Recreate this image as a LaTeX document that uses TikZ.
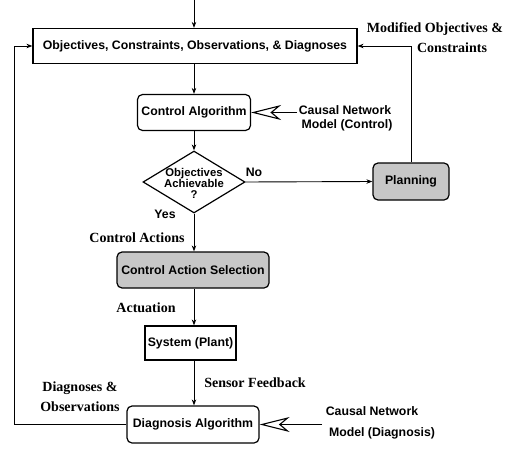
\documentclass[tikz,border=0pt]{standalone}
\usepackage{fontspec}
\setmainfont{Liberation Serif}
\setsansfont{Liberation Sans}
\usetikzlibrary{shapes.geometric,arrows.meta}
\begin{document}
\begin{tikzpicture}[x=1pt,y=-1pt,
 box/.style={draw,line width=1.2pt,font=\sffamily\bfseries\fontsize{12.3}{13}\selectfont,inner sep=0pt},
 rbox/.style={box,rounded corners=5pt},
 shaded/.style={fill=black!22},
 lab/.style={font=\rmfamily\bfseries\fontsize{14}{15}\selectfont,inner sep=0pt},
 slab/.style={font=\sffamily\bfseries\fontsize{12.3}{13}\selectfont,inner sep=0pt},
 conn/.style={line width=0.9pt},
 arr/.style={conn,-{Stealth[length=6pt,width=4.5pt]}},
 bigarr/.style={line width=1.1pt,-{Stealth[open,length=30pt,width=15pt,inset=9pt]}}
]
\useasboundingbox (0,0) rectangle (518,449);

\node[box,minimum width=324pt,minimum height=35pt] (obj) at (195,46) {Objectives, Constraints, Observations, \& Diagnoses};
\node[rbox,minimum width=113pt,minimum height=36pt] (ctrl) at (194,112.5) {Control Algorithm};
\node[draw,diamond,line width=1.2pt,minimum width=102pt,minimum height=62pt,inner sep=0pt] (dia) at (194,182) {};
\node[align=center,font=\sffamily\bfseries\fontsize{11.3}{11}\selectfont,inner sep=0pt] (diat) at (194,183) {Objectives\\Achievable\\?};
\node[rbox,shaded,minimum width=76pt,minimum height=37pt] (plan) at (411,181.5) {Planning};
\node[rbox,shaded,minimum width=152pt,minimum height=36pt] (cas) at (193,270) {Control Action Selection};
\node[box,minimum width=91pt,minimum height=34pt] (sys) at (190.5,343) {System (Plant)};
\node[rbox,minimum width=132pt,minimum height=37pt] (diag) at (193,424.5) {Diagnosis Algorithm};

\coordinate (in) at (194,0);
\coordinate (lx) at (14,0);
\coordinate (cn1) at (297,112.5);
\coordinate (cn2) at (322,424.5);

\draw[arr] (in) -- (obj.north -| in);
\draw[arr] (obj.south -| in) -- (ctrl.north -| in);
\draw[arr] (ctrl.south -| in) -- (dia.north);
\draw[arr] (dia.east) -- (plan.west);
\draw[arr] (dia.south) -- (cas.north -| dia.south);
\draw[arr] (cas.south -| in) -- (sys.north -| in);
\draw[arr] (sys.south -| in) -- (diag.north -| in);
\draw[arr] (plan.north) |- (obj.east);
\draw[arr] (diag.west) -- (diag.west -| lx) |- (obj.west);
\draw[bigarr] (cn1) -- (ctrl.east);
\draw[bigarr] (cn2) -- (diag.east);

\node[lab] (mod1) at (435,29) {Modified Objectives \&};
\node[lab] (mod2) at (452,48) {Constraints};
\node[slab] (cn1a) at (345,110) {Causal Network};
\node[slab] (cn1b) at (347,125) {Model (Control)};
\node[slab] (no) at (254,172) {No};
\node[slab] (yes) at (165,214) {Yes};
\node[lab] (ca) at (137,238) {Control Actions};
\node[lab] (act) at (146,308) {Actuation};
\node[lab] (sf) at (255,383) {Sensor Feedback};
\node[lab] (do1) at (80,388) {Diagnoses \&};
\node[lab] (do2) at (80,407) {Observations};
\node[slab] (cn2a) at (372,411) {Causal Network};
\node[slab] (cn2b) at (382,433) {Model (Diagnosis)};
\end{tikzpicture}
\end{document}
